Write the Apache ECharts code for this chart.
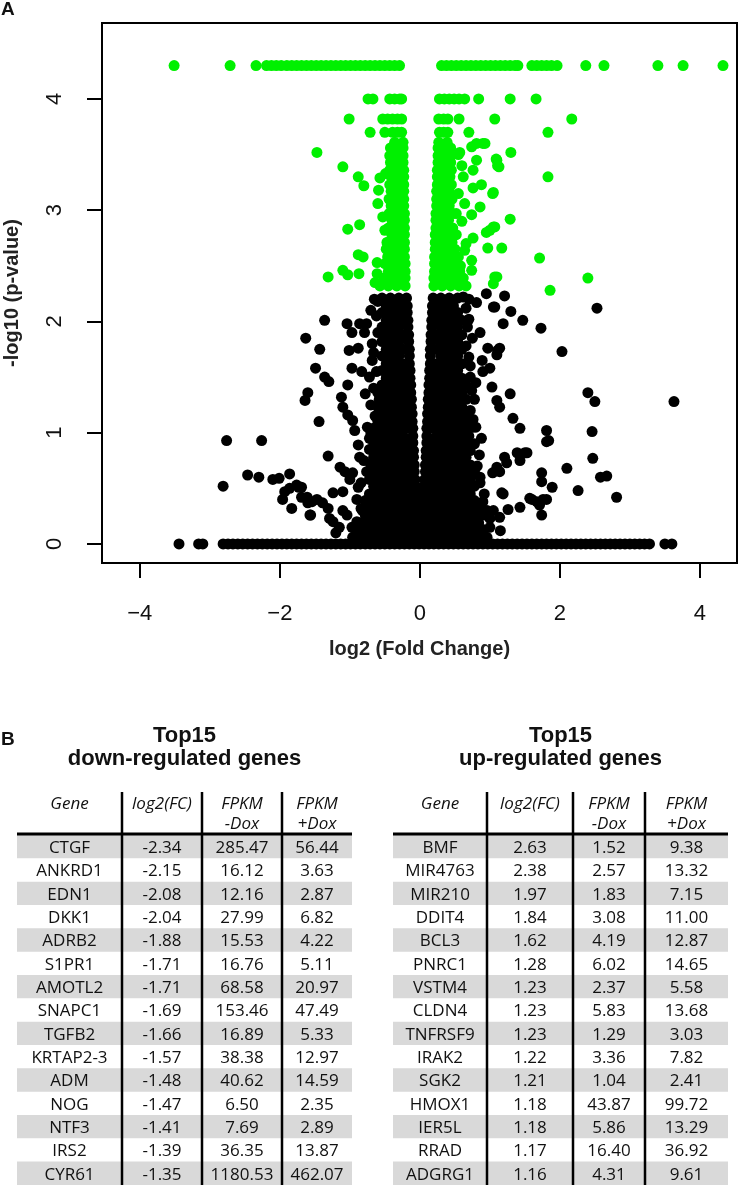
<!DOCTYPE html>
<html>
<head>
<meta charset="utf-8">
<script src="https://cdn.jsdelivr.net/npm/echarts@6/dist/echarts.min.js"></script>
<style>
html,body{margin:0;padding:0;background:#fff;}
#chart{width:739px;height:1185px;}
</style>
</head>
<body>
<div id="chart"></div>
<script>
// ---------------- DATA ----------------
const xTicks = [-4, -2, 0, 2, 4];
const yTicks = [0, 1, 2, 3, 4];

// Significant genes (green): rows [y, x1, x2, ...]
const greenRows = [
  [4.30, -3.51,-2.71,-2.34,-2.19,-2.12,-2.05,-1.98,-1.9,-1.83,-1.76,-1.69,-1.62,-1.55,-1.48,-1.41,-1.34,-1.27,-1.2,-1.13,-1.06,-0.99,-0.92,-0.85,-0.78,-0.71,-0.64,-0.57,-0.5,-0.43,-0.36,-0.29,
         0.31,0.38,0.45,0.52,0.59,0.66,0.73,0.8,0.87,0.94,1.01,1.08,1.15,1.22,1.29,1.36,1.4,1.6,1.67,1.74,1.81,1.88,1.96,2.37,2.63,3.4,3.76,4.33],
  [4.00, -0.74,-0.67,-0.43,-0.36,-0.29,-0.26, 0.28,0.35,0.42,0.49,0.56,0.64,0.84,1.29,1.66],
  [3.82, -1.01,-0.53,-0.46,-0.39,-0.32,-0.26, 0.27,0.34,0.4,0.56,1.07,2.17],
  [3.70, -0.71,-0.5,-0.39,-0.32,-0.26, 0.28,0.34,0.4,0.7,1.83],
  [3.61, -0.24,-0.36, 0.27,0.39],
  [3.56, -0.24,-0.3,-0.42, 0.26,0.32,0.44],
  [3.49, -0.24,-0.36,-0.43, 0.26,0.38,0.44],
  [3.43, -0.24,-0.3,-0.42, 0.26,0.32,0.44],
  [3.36, -0.23,-0.35,-0.43, 0.25,0.37,0.45],
  [3.30, -0.23,-0.29,-0.41, 0.25,0.31,0.43],
  [3.23, -0.23,-0.35,-0.43, 0.25,0.37,0.45],
  [3.17, -0.23,-0.29,-0.41, 0.24,0.3,0.42],
  [3.10, -0.23,-0.35,-0.44, 0.24,0.36,0.46],
  [3.04, -0.23,-0.29,-0.41, 0.24,0.3,0.42],
  [2.97, -0.22,-0.34,-0.44, 0.23,0.35,0.47],
  [2.91, -0.22,-0.28,-0.4, 0.23,0.29,0.41],
  [2.84, -0.22,-0.34,-0.45, 0.23,0.35,0.47],
  [2.78, -0.22,-0.28,-0.4, 0.22,0.28,0.4,0.5],
  [2.71, -0.22,-0.34,-0.46, 0.22,0.34,0.46],
  [2.65, -0.22,-0.28,-0.4,-0.48, 0.22,0.28,0.4,0.5],
  [2.58, -0.22,-0.34,-0.46, 0.21,0.33,0.45,0.55],
  [2.52, -0.21,-0.27,-0.39,-0.5, 0.21,0.27,0.39,0.51],
  [2.45, -0.21,-0.33,-0.45, 0.21,0.33,0.45,0.57],
  [2.39, -0.21,-0.27,-0.39,-0.51, 0.2,0.26,0.38,0.5,0.62],
  [2.32, -0.21,-0.33,-0.45,-0.57, 0.2,0.32,0.44,0.56,0.66]
];
// isolated green points [x, y]
const greenScatter = [
  [-1.47,3.52],[-1.1,3.39],[-0.88,3.3],[-0.8,3.22],[-0.59,3.18],[-0.6,3.06],[-1.03,2.83],[-0.86,2.87],
  [-0.88,2.6],[-0.81,2.58],[-1.1,2.46],[-1.03,2.42],[-1.31,2.4],[-0.87,2.43],[-0.61,2.53],[-0.61,2.43],
  [-0.64,2.35],[-0.57,3.29],[-0.49,3.33],[-0.53,2.94],[-0.5,2.82],[-0.47,2.71],
  [0.57,3.52],[0.74,3.57],[0.9,3.6],[0.81,3.45],[1.1,3.45],[1.13,3.39],[1.3,3.52],[0.76,3.36],[0.62,3.3],
  [0.88,3.23],[1.05,3.16],[0.76,3.2],[0.86,3.03],[0.64,3.06],[0.52,2.97],[0.74,2.96],[1.29,2.92],[1.05,2.85],
  [0.95,2.8],[0.76,2.75],[0.52,2.78],[0.97,2.66],[1.17,2.66],[0.64,2.64],[0.74,2.55],[1.71,2.57],[0.74,2.46],
  [1.1,2.4],[1.05,2.34],[1.86,2.28],[1.83,3.3],[0.81,3.6],[0.93,3.6],[1.0,2.82],[1.07,2.85],[2.4,2.39],
  [1.07,2.4],[1.11,3.4],[1.09,3.46],[1.04,3.15],[0.6,3.4],[0.55,3.15],[0.6,2.9],[0.58,2.5],[0.66,2.7],[0.55,3.5]
];

// Non-significant genes (black): rows [y, x1, x2, ...]
const blackRows = [
  [0.00, -3.44,-3.16,-3.1,-2.81,-2.74,-2.67,-2.6,-2.53,-2.46,-2.39,-2.32,-2.25,-2.18,-2.11,-2.04,-1.97,-1.9,-1.83,-1.76,-1.69,-1.62,-1.55,-1.48,-1.41,-1.34,-1.27,-1.2,-1.13,-1.06,-0.99,-0.92,-0.85,-0.78,-0.71,-0.64,-0.57,-0.5,-0.43,-0.36,-0.29,-0.22,-0.15,-0.08,-0.01,
         0.06,0.13,0.2,0.27,0.34,0.41,0.48,0.55,0.62,0.69,0.76,0.83,0.9,0.97,1.04,1.11,1.18,1.25,1.32,1.39,1.46,1.53,1.6,1.67,1.74,1.81,1.88,1.95,2.02,2.09,2.16,2.23,2.3,2.37,2.44,2.51,2.58,2.65,2.72,2.79,2.86,2.93,3.0,3.07,3.14,3.21,3.28,3.5,3.6],
  [0.06, -0.96,-0.84,-0.72,-0.6,-0.48,-0.36,-0.24,-0.12,0,0.12,0.24,0.36,0.48,0.6,0.72,0.84,0.96],
  [0.13, -0.9,-0.78,-0.66,-0.54,-0.42,-0.3,-0.18,-0.06,0.06,0.18,0.3,0.42,0.54,0.66,0.78,0.9],
  [0.19, -0.84,-0.72,-0.6,-0.48,-0.36,-0.24,-0.12,0,0.12,0.24,0.36,0.48,0.6,0.72,0.84],
  [0.26, -0.78,-0.66,-0.54,-0.42,-0.3,-0.18,-0.06,0.06,0.18,0.3,0.42,0.54,0.66,0.78,0.9],
  [0.32, -0.84,-0.72,-0.6,-0.48,-0.36,-0.24,-0.12,0,0.12,0.24,0.36,0.48,0.6,0.72,0.84],
  [0.39, -0.78,-0.66,-0.54,-0.42,-0.3,-0.18,-0.06,0.06,0.18,0.3,0.42,0.54,0.66,0.78],
  [0.45, -0.72,-0.6,-0.48,-0.36,-0.24,-0.12,0,0.12,0.24,0.36,0.48,0.6,0.72],
  [0.52, -0.66,-0.54,-0.42,-0.3,-0.18,-0.06,0.06,0.18,0.3,0.42,0.54,0.66,0.78],
  [0.58, -0.72,-0.6,-0.48,-0.36,-0.24,-0.12,-0.07,0.07,0.12,0.24,0.36,0.48,0.6,0.72],
  [0.65, -0.66,-0.54,-0.42,-0.3,-0.18,-0.08,0.08,0.18,0.3,0.42,0.54,0.66,0.78],
  [0.71, -0.7,-0.6,-0.48,-0.36,-0.24,-0.12,-0.08,0.08,0.12,0.24,0.36,0.48,0.6,0.72],
  [0.78, -0.66,-0.54,-0.42,-0.3,-0.18,-0.09,0.09,0.18,0.3,0.42,0.54,0.66],
  [0.84, -0.6,-0.48,-0.36,-0.24,-0.12,-0.09,0.09,0.12,0.24,0.36,0.48,0.6,0.72],
  [0.91, -0.66,-0.54,-0.42,-0.3,-0.18,-0.1,0.1,0.18,0.3,0.42,0.54,0.66],
  [0.97, -0.6,-0.48,-0.36,-0.24,-0.1,0.1,0.24,0.36,0.48,0.6,0.7],
  [1.04, -0.66,-0.54,-0.42,-0.3,-0.18,-0.1,0.1,0.18,0.3,0.42,0.54,0.66],
  [1.10, -0.6,-0.48,-0.36,-0.24,-0.11,0.11,0.24,0.36,0.48,0.6,0.72],
  [1.17, -0.54,-0.42,-0.3,-0.18,-0.11,0.11,0.18,0.3,0.42,0.54,0.66],
  [1.23, -0.6,-0.48,-0.36,-0.24,-0.12,0.12,0.24,0.36,0.48,0.6],
  [1.30, -0.54,-0.42,-0.3,-0.18,-0.12,0.12,0.18,0.3,0.42,0.54,0.66],
  [1.36, -0.6,-0.48,-0.36,-0.24,-0.13,0.13,0.24,0.36,0.48,0.6],
  [1.43, -0.54,-0.42,-0.3,-0.18,-0.13,0.13,0.18,0.3,0.42,0.54,0.66],
  [1.49, -0.48,-0.36,-0.24,-0.14,0.14,0.24,0.36,0.48,0.6],
  [1.56, -0.54,-0.42,-0.3,-0.18,-0.14,0.14,0.18,0.3,0.42,0.54],
  [1.62, -0.48,-0.36,-0.24,-0.15,0.15,0.24,0.36,0.48,0.6],
  [1.69, -0.54,-0.42,-0.3,-0.15,0.15,0.3,0.42,0.54],
  [1.75, -0.48,-0.36,-0.24,-0.15,0.15,0.24,0.36,0.48,0.6],
  [1.82, -0.54,-0.42,-0.3,-0.16,0.16,0.3,0.42,0.54],
  [1.88, -0.48,-0.36,-0.24,-0.16,0.16,0.24,0.36,0.48,0.6],
  [1.95, -0.54,-0.42,-0.3,-0.17,0.17,0.3,0.42,0.54],
  [2.01, -0.48,-0.36,-0.24,-0.17,0.17,0.24,0.36,0.48,0.6],
  [2.08, -0.54,-0.42,-0.3,-0.18,0.18,0.3,0.42,0.54],
  [2.14, -0.48,-0.36,-0.24,-0.18,0.18,0.24,0.36,0.48],
  [2.21, -0.54,-0.42,-0.3,-0.19,0.19,0.3,0.42,0.54]
];
// isolated black points [x, y]
const blackScatter = [
  [-1.36,2.01],[-1.63,1.85],[-1.43,1.75],[-1.49,1.58],[-1.36,1.5],[-1.3,1.46],[-1.6,1.36],[-1.64,1.29],[-1.44,1.1],[-1.31,0.79],
  [-1.04,1.98],[-0.97,1.9],[-0.86,1.98],[-0.76,1.98],[-0.79,1.9],[-1.01,1.74],[-0.88,1.76],[-0.97,1.58],[-0.83,1.55],[-1.03,1.43],
  [-1.12,1.32],[-1.1,1.23],[-1.03,1.16],[-0.96,1.11],[-0.93,1.02],[-0.88,0.89],[-0.86,0.78],[-1.14,0.69],[-1.07,0.65],[-0.96,0.64],
  [-1.0,0.58],[-0.88,0.51],[-1.24,0.46],[-1.1,0.47],[-1.69,0.51],[-1.61,0.42],[-1.54,0.38],[-1.39,0.37],[-1.57,0.26],[-1.31,0.32],
  [-1.29,0.23],[-1.24,0.2],[-1.04,0.26],[-0.97,0.15],
  [-2.76,0.93],[-2.26,0.93],[-2.81,0.52],[-2.46,0.62],[-2.3,0.6],[-2.1,0.58],[-2.01,0.59],[-1.86,0.63],[-1.93,0.47],[-1.86,0.5],
  [-1.76,0.53],[-1.73,0.51],[-1.96,0.4],[-1.83,0.32],[-1.69,0.42],[-1.6,0.37],[-1.47,0.4],[-1.56,0.26],
  [-0.7,2.1],[-0.68,1.8],[-0.72,1.5],[-0.7,1.25],[-0.75,1.05],[-0.8,0.75],[-0.9,0.4],[-1.1,0.3],[-1.15,0.15],[-0.65,2.2],
  [-0.72,0.95],[-0.78,1.35],[-0.68,1.65],[-1.2,0.1],
  [-0.62,2.05],[-0.6,1.9],[-0.66,1.72],[-0.62,1.55],[-0.66,1.4],[-0.64,1.15],[-0.7,1.0],[-0.72,0.85],[-0.76,0.65],[-0.84,0.55],
  [-0.82,0.3],[-0.9,0.2],[-0.6,2.18],[-0.58,1.3],[-0.6,1.02],
  [1.07,2.13],[1.3,2.09],[1.47,2.01],[1.73,1.94],[1.19,1.98],[1.14,1.76],[0.97,1.76],[0.89,1.65],[1.0,1.58],[0.9,1.55],
  [1.29,1.35],[1.03,1.41],[1.1,1.29],[1.14,1.23],[1.33,1.13],[1.43,1.04],[1.81,1.02],[1.81,0.92],[1.39,0.82],[1.53,0.82],
  [1.43,0.75],[1.24,0.73],[1.14,0.65],[1.04,0.64],[1.74,0.64],[1.74,0.56],[1.17,0.46],[0.86,0.55],[1.57,0.41],[1.67,0.38],
  [1.81,0.4],[1.71,0.35],[1.74,0.26],[1.43,0.33],[1.26,0.31],[1.14,0.24],[1.0,0.23],
  [0.95,2.25],[1.21,2.23],[0.81,2.17],[1.05,2.13],[0.86,1.9],[1.11,1.74],[1.1,1.7],[2.53,2.12],[2.03,1.73],
  [2.4,1.36],[2.5,1.28],[3.63,1.28],[1.84,0.93],[2.46,1.01],[2.47,0.77],[2.1,0.68],[2.58,0.6],[2.67,0.61],[1.89,0.51],
  [2.26,0.48],[2.81,0.42],[1.6,0.4],[1.76,0.4],[1.19,0.45],[1.5,0.82],[1.21,0.78],[1.1,0.69],
  [0.7,2.2],[0.68,1.95],[0.72,1.6],[0.78,1.3],[0.8,1.05],[0.85,0.8],[0.92,0.45],[1.05,0.3],[1.15,0.12],[0.75,1.85],[0.8,1.45],[0.88,0.95],
  [0.66,2.12],[0.7,2.02],[0.66,1.78],[0.7,1.68],[0.72,1.5],[0.74,1.38],[0.72,1.2],[0.76,1.12],[0.78,0.9],[0.82,0.7],
  [0.86,0.6],[0.9,0.38],[0.96,0.3],[1.0,0.15],[0.62,2.22],[0.76,1.05]
];

// Tables
const downGenes = ['CTGF','ANKRD1','EDN1','DKK1','ADRB2','S1PR1','AMOTL2','SNAPC1','TGFB2','KRTAP2-3','ADM','NOG','NTF3','IRS2','CYR61'];
const downLog2FC = [-2.34,-2.15,-2.08,-2.04,-1.88,-1.71,-1.71,-1.69,-1.66,-1.57,-1.48,-1.47,-1.41,-1.39,-1.35];
const downFpkmMinus = [285.47,16.12,12.16,27.99,15.53,16.76,68.58,153.46,16.89,38.38,40.62,6.50,7.69,36.35,1180.53];
const downFpkmPlus = [56.44,3.63,2.87,6.82,4.22,5.11,20.97,47.49,5.33,12.97,14.59,2.35,2.89,13.87,462.07];

const upGenes = ['BMF','MIR4763','MIR210','DDIT4','BCL3','PNRC1','VSTM4','CLDN4','TNFRSF9','IRAK2','SGK2','HMOX1','IER5L','RRAD','ADGRG1'];
const upLog2FC = [2.63,2.38,1.97,1.84,1.62,1.28,1.23,1.23,1.23,1.22,1.21,1.18,1.18,1.17,1.16];
const upFpkmMinus = [1.52,2.57,1.83,3.08,4.19,6.02,2.37,5.83,1.29,3.36,1.04,43.87,5.86,16.40,4.31];
const upFpkmPlus = [9.38,13.32,7.15,11.00,12.87,14.65,5.58,13.68,3.03,7.82,2.41,99.72,13.29,36.92,9.61];

const headerTop = ['Gene','log2(FC)','FPKM','FPKM'];
const headerBottom = ['','','-Dox','+Dox'];

// ---------------- LAYOUT ----------------
const plotGrid = {left:102, top:23, width:635, height:540};
const xRange = [-4.54, 4.53], yRange = [-0.171, 4.683];
const yLabelX = 55;
const tableLayout = [
  {left:17, width:335, cols:[0,105,185,265,335], title:['Top15','down-regulated genes']},
  {left:393, width:335, cols:[0,94,180,252,335], title:['Top15','up-regulated genes']}
];
const bodyTop = 835, rowH = 23.33, nRows = 15;
const lineTop = 792, headLineY = 834;

// ---------------- BUILD ----------------
function flattenRows(rows){
  const out = [];
  rows.forEach(r => { for (let k = 1; k < r.length; k++) out.push([r[k], r[0]]); });
  return out;
}
const greenPts = flattenRows(greenRows).concat(greenScatter);
const blackPts = flattenRows(blackRows).concat(blackScatter);

const minus = v => String(v).replace('-', '\u2212');
const f2 = v => v.toFixed(2);

const tables = [
  {genes:downGenes, cols:[downGenes, downLog2FC.map(f2), downFpkmMinus.map(f2), downFpkmPlus.map(f2)]},
  {genes:upGenes, cols:[upGenes, upLog2FC.map(f2), upFpkmMinus.map(f2), upFpkmPlus.map(f2)]}
];

function tableSeries(t, idx){
  const L = tableLayout[idx];
  return {
    type:'custom', coordinateSystem:'cartesian2d', xAxisIndex: idx+1, yAxisIndex: idx+1,
    silent:true, animation:false,
    encode:{x:0, y:1},
    data: t.genes.map((g,i) => [0, i]),
    renderItem: function(params, api){
      const i = params.dataIndex;
      const c0 = api.coord([0, i]);
      const h = api.size([0, 1])[1];
      const w = api.size([L.width, 0])[0];
      const children = [];
      if (i % 2 === 0) {
        children.push({type:'rect', shape:{x:c0[0], y:c0[1]-h/2, width:w, height:h}, style:{fill:'#d9d9d9'}});
      }
      for (let k = 0; k < 4; k++) {
        const mid = (L.cols[k] + L.cols[k+1]) / 2;
        const p = api.coord([mid, i]);
        children.push({type:'text', style:{text:t.cols[k][i], x:p[0], y:p[1]+1.5,
          align:'center', verticalAlign:'middle', textAlign:'center', textVerticalAlign:'middle',
          font:'17px "Open Sans"', fill:'#111'}});
      }
      return {type:'group', children};
    }
  };
}

const graphics = [];
let gid = 0;
function addG(el){ el.id = 'g' + (gid++); graphics.push(el); }
addG({type:'text', style:{text:'A', x:1, y:10, font:'bold 19px "Liberation Sans"', fill:'#111', align:'left', verticalAlign:'middle', textAlign:'left', textVerticalAlign:'middle'}});
addG({type:'text', style:{text:'B', x:1, y:740, font:'bold 19px "Liberation Sans"', fill:'#111', align:'left', verticalAlign:'middle', textAlign:'left', textVerticalAlign:'middle'}});
tableLayout.forEach((L) => {
  const cx = L.left + L.width/2;
  addG({type:'text', style:{text:L.title[0], x:cx, y:736, font:'bold 22px "Liberation Sans"', fill:'#111', align:'center', verticalAlign:'middle', textAlign:'center', textVerticalAlign:'middle'}});
  addG({type:'text', style:{text:L.title[1], x:cx, y:759, font:'bold 22px "Liberation Sans"', fill:'#111', align:'center', verticalAlign:'middle', textAlign:'center', textVerticalAlign:'middle'}});
  for (let k = 0; k < 4; k++) {
    const mx = L.left + (L.cols[k] + L.cols[k+1]) / 2;
    addG({type:'text', style:{text:headerTop[k], x:mx, y:804, font:'italic 17px "Open Sans"', fill:'#111', align:'center', verticalAlign:'middle', textAlign:'center', textVerticalAlign:'middle'}});
    if (headerBottom[k]) addG({type:'text', style:{text:headerBottom[k], x:mx, y:824, font:'italic 17px "Open Sans"', fill:'#111', align:'center', verticalAlign:'middle', textAlign:'center', textVerticalAlign:'middle'}});
  }
  addG({type:'line', z:10, shape:{x1:L.left, y1:headLineY, x2:L.left+L.width, y2:headLineY}, style:{stroke:'#000', lineWidth:3}});
  for (let k = 1; k < 4; k++) {
    const x = L.left + L.cols[k];
    addG({type:'line', z:10, shape:{x1:x, y1:lineTop, x2:x, y2:1185}, style:{stroke:'#000', lineWidth:2.5}});
  }
});

const axisFont = '"Liberation Sans", Arial, sans-serif';
const option = {
  animation:false,
  backgroundColor:'#fff',
  grid:[
    Object.assign({show:true, borderColor:'#000', borderWidth:2, backgroundColor:'transparent', containLabel:false, outerBoundsMode:'none'}, plotGrid),
    {left:tableLayout[0].left, top:bodyTop, width:tableLayout[0].width, height:rowH*nRows, outerBoundsMode:'none'},
    {left:tableLayout[1].left, top:bodyTop, width:tableLayout[1].width, height:rowH*nRows, outerBoundsMode:'none'}
  ],
  xAxis:[
    {type:'value', gridIndex:0, min:xRange[0], max:xRange[1], position:'bottom',
     axisLine:{show:false, onZero:false}, splitLine:{show:false},
     axisTick:{show:true, length:15, customValues:xTicks, lineStyle:{color:'#000', width:2}},
     axisLabel:{customValues:xTicks, formatter:minus, fontSize:22, color:'#111', margin:40, fontFamily:axisFont},
     name:'log2 (Fold Change)', nameLocation:'middle', nameGap:76,
     nameTextStyle:{fontSize:20, fontWeight:'bold', color:'#222', fontFamily:axisFont}},
    {type:'value', gridIndex:1, min:0, max:tableLayout[0].width, show:false},
    {type:'value', gridIndex:2, min:0, max:tableLayout[1].width, show:false}
  ],
  yAxis:[
    {type:'value', gridIndex:0, min:yRange[0], max:yRange[1], position:'left',
     axisLine:{show:false, onZero:false}, splitLine:{show:false},
     axisTick:{show:true, length:15, customValues:yTicks, lineStyle:{color:'#000', width:2}},
     axisLabel:{show:false},
     name:'-log10 (p-value)', nameLocation:'middle', nameGap:80, nameRotate:90,
     nameTextStyle:{fontSize:20, fontWeight:'bold', color:'#222', fontFamily:axisFont}},
    {type:'category', gridIndex:1, data:downGenes, inverse:true, show:false},
    {type:'category', gridIndex:2, data:upGenes, inverse:true, show:false}
  ],
  series:[
    {type:'scatter', xAxisIndex:0, yAxisIndex:0, data:blackPts, symbol:'circle', symbolSize:11,
     itemStyle:{color:'#000', opacity:1}, silent:true, clip:true},
    {type:'scatter', xAxisIndex:0, yAxisIndex:0, data:greenPts, symbol:'circle', symbolSize:11,
     itemStyle:{color:'#00f000', opacity:1}, silent:true, clip:true},
    tableSeries(tables[0], 0),
    tableSeries(tables[1], 1)
  ],
  graphic:graphics
};

const chart = echarts.init(document.getElementById('chart'), null, {renderer:'canvas'});
chart.setOption(option);

// rotated y tick labels (R style, las = 0), placed through the y axis scale
const yLabelEls = yTicks.map((v, i) => {
  const py = chart.convertToPixel({xAxisIndex:0, yAxisIndex:0}, [xRange[0], v])[1];
  return {type:'text', id:'ylab' + i, x:yLabelX, y:py, rotation:Math.PI/2,
    style:{text:String(v), x:0, y:0, font:'22px ' + axisFont, fill:'#111',
      align:'center', verticalAlign:'middle', textAlign:'center', textVerticalAlign:'middle'}};
});
chart.setOption({graphic:{elements:yLabelEls}});
</script>
</body>
</html>
